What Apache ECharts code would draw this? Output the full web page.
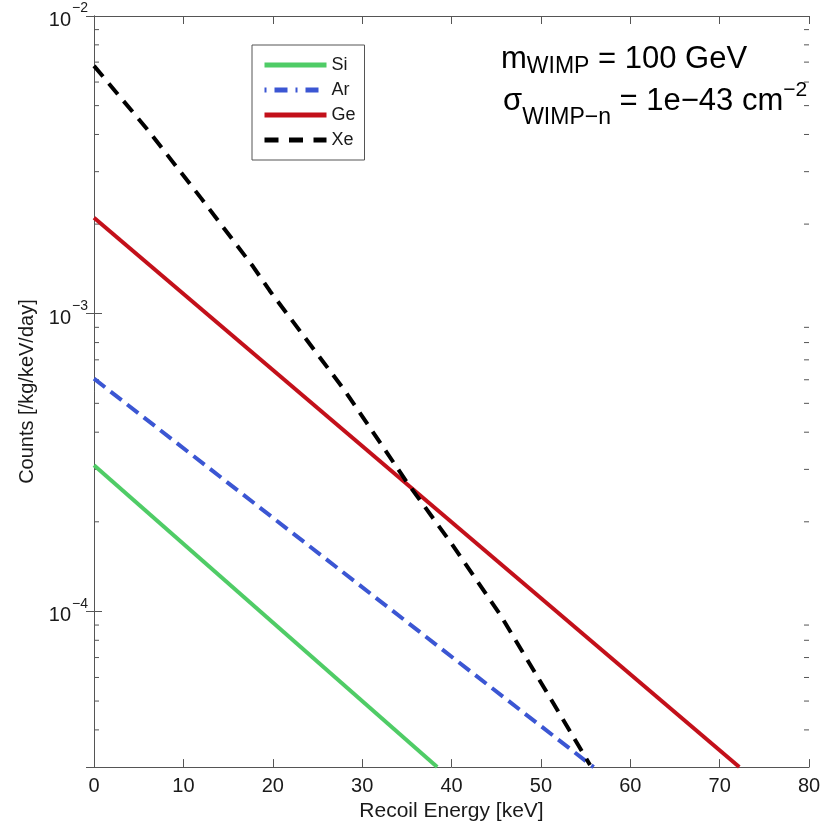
<!DOCTYPE html>
<html><head><meta charset="utf-8">
<script src="https://cdn.jsdelivr.net/npm/echarts@6/dist/echarts.min.js"></script>
<style>html,body{margin:0;padding:0;background:#fff}#c{width:831px;height:827px}</style>
</head><body><div id="c"></div>
<script>
// ---- data ----
const seriesNames = ['Si', 'Ar', 'Ge', 'Xe'];
const siData = [[0, 3.1e-4], [38.4, 3.0e-5]];
const arData = [[0, 6.05e-4], [55.9, 3.0e-5]];
const geData = [[0, 2.1e-3], [72.2, 3.0e-5]];
const xeData = [[0, 6.8e-3], [6, 4.15e-3], [12, 2.44e-3], [17.8, 1.44e-3], [19.7, 1.19e-3],
                [28, 5.55e-4], [35, 2.72e-4], [40, 1.69e-4], [45.4, 9.8e-5], [51, 5.15e-5], [55.5, 3.05e-5]];
const xTickValues = [0, 10, 20, 30, 40, 50, 60, 70, 80];
const yMinorTicks = [4e-5, 5e-5, 6e-5, 7e-5, 8e-5, 9e-5,
                     2e-4, 3e-4, 4e-4, 5e-4, 6e-4, 7e-4, 8e-4, 9e-4,
                     2e-3, 3e-3, 4e-3, 5e-3, 6e-3, 7e-3, 8e-3, 9e-3];
const yMin = 3e-5, yMax = 1e-2;
const xMin = 0, xMax = 80;

const FONT = 'Liberation Sans';
const AX = '#555';
const TXT = '#1a1a1a';
const colors = {Si: '#4fcc66', Ar: '#3b56d3', Ge: '#c3101a', Xe: '#000000'};

const chart = echarts.init(document.getElementById('c'));
const yFmt = function (v) {
  const l = Math.log10(v), e = Math.round(l);
  if (Math.abs(l - e) > 1e-6) return '';
  return '{b|10}{s|' + (e < 0 ? '\u2212' + (-e) : e) + '}';
};
chart.setOption({
  animation: false,
  backgroundColor: '#fff',
  grid: {left: 94, top: 16, right: 22, bottom: 58},
  xAxis: [{
    type: 'value', min: xMin, max: xMax, interval: 10, position: 'bottom',
    name: 'Recoil Energy [keV]', nameLocation: 'middle', nameGap: 32,
    nameTextStyle: {fontFamily: FONT, fontSize: 21, color: TXT},
    axisLine: {show: true, lineStyle: {color: AX, width: 1}},
    axisTick: {show: true, inside: true, length: 8, lineStyle: {color: AX}},
    axisLabel: {margin: 9, fontFamily: FONT, fontSize: 20, color: TXT},
    splitLine: {show: false}
  }, {
    type: 'value', min: xMin, max: xMax, interval: 10, position: 'top',
    axisLine: {show: true, lineStyle: {color: AX, width: 1}},
    axisTick: {show: true, inside: true, length: 8, lineStyle: {color: AX}},
    axisLabel: {show: false}, splitLine: {show: false}
  }],
  yAxis: [{
    type: 'log', logBase: 10, min: yMin, max: yMax, position: 'left',
    name: 'Counts [/kg/keV/day]', nameLocation: 'middle', nameGap: 56,
    nameTextStyle: {fontFamily: FONT, fontSize: 20, color: TXT},
    axisLine: {show: true, lineStyle: {color: AX, width: 1}},
    axisTick: {show: true, inside: true, length: 8, lineStyle: {color: AX}},
    axisLabel: {
      margin: 6, formatter: yFmt, showMinLabel: true, showMaxLabel: true,
      rich: {
        b: {fontFamily: FONT, fontSize: 20, color: TXT, padding: [9, 0, 0, 0], verticalAlign: 'bottom'},
        s: {fontFamily: FONT, fontSize: 14, color: TXT, verticalAlign: 'top', padding: [0, 0, 0, 1]}
      }
    },
    splitLine: {show: false}
  }, {
    type: 'log', logBase: 10, min: yMin, max: yMax, position: 'right',
    axisLine: {show: true, lineStyle: {color: AX, width: 1}},
    axisTick: {show: true, inside: true, length: 8, lineStyle: {color: AX}},
    axisLabel: {show: false}, splitLine: {show: false}
  }],
  legend: {
    orient: 'vertical', left: 252, top: 45,
    itemWidth: 62, itemHeight: 14, itemGap: 7,
    padding: [11, 9, 11, 10],
    itemStyle: {opacity: 0},
    lineStyle: {width: 5},
    backgroundColor: '#fff', borderColor: '#555', borderWidth: 1, borderRadius: 0,
    textStyle: {fontFamily: FONT, fontSize: 18, color: TXT},
    data: [
      {name: 'Si'},
      {name: 'Ar', lineStyle: {width: 5, type: [2, 8, 13, 8]}},
      {name: 'Ge'},
      {name: 'Xe', lineStyle: {width: 5, type: [14, 10.5]}}
    ]
  },
  graphic: [{
    type: 'text', left: 501, top: 35, z: 10,
    style: {
      text: '{m|m}{sub|WIMP}{t| = 100 GeV}',
      rich: {
        m: {fontFamily: FONT, fontSize: 31, lineHeight: 34, color: TXT, verticalAlign: 'top'},
        sub: {fontFamily: FONT, fontSize: 23, lineHeight: 26, color: TXT, verticalAlign: 'bottom', padding: [20, 0, 0, 0]},
        t: {fontFamily: FONT, fontSize: 31, lineHeight: 34, color: TXT, verticalAlign: 'top'}
      }
    }
  }, {
    type: 'text', left: 503, top: 80, z: 10,
    style: {
      text: '{m|\u03c3}{sub|WIMP\u2212n}{t| = 1e\u221243 cm}{sup|\u22122}',
      rich: {
        m: {fontFamily: FONT, fontSize: 31, lineHeight: 34, color: TXT, verticalAlign: 'top', padding: [6, 0, 0, 0]},
        sub: {fontFamily: FONT, fontSize: 23, lineHeight: 26, color: TXT, verticalAlign: 'top', padding: [26, 0, 0, 0]},
        t: {fontFamily: FONT, fontSize: 31, lineHeight: 34, color: TXT, verticalAlign: 'top', padding: [6, 0, 0, 0]},
        sup: {fontFamily: FONT, fontSize: 21, lineHeight: 22, color: TXT, verticalAlign: 'top'}
      }
    }
  }],
  series: [
    {name: 'Si', type: 'line', data: siData, symbol: 'none', clip: true,
     lineStyle: {color: colors.Si, width: 4}, itemStyle: {color: colors.Si}},
    {name: 'Ar', type: 'line', data: arData, symbol: 'none', clip: true,
     lineStyle: {color: colors.Ar, width: 4, type: [14, 7]}, itemStyle: {color: colors.Ar}},
    {name: 'Ge', type: 'line', data: geData, symbol: 'none', clip: true,
     lineStyle: {color: colors.Ge, width: 4}, itemStyle: {color: colors.Ge}},
    {name: 'Xe', type: 'line', data: xeData, symbol: 'none', clip: true,
     lineStyle: {color: colors.Xe, width: 4, type: [14, 9]}, itemStyle: {color: colors.Xe}},
    {name: 'minorTicks', type: 'custom', silent: true, z: 1,
     data: yMinorTicks.map(v => [xMin, v]),
     renderItem: function (params, api) {
       const v = api.value(1);
       const p = api.coord([xMin, v]);
       const q = api.coord([xMax, v]);
       return {type: 'group', children: [
         {type: 'line', shape: {x1: p[0], y1: p[1], x2: p[0] + 5, y2: p[1]}, style: {stroke: AX, lineWidth: 1}},
         {type: 'line', shape: {x1: q[0] - 5, y1: q[1], x2: q[0], y2: q[1]}, style: {stroke: AX, lineWidth: 1}}
       ]};
     }}
  ]
});
</script></body></html>
